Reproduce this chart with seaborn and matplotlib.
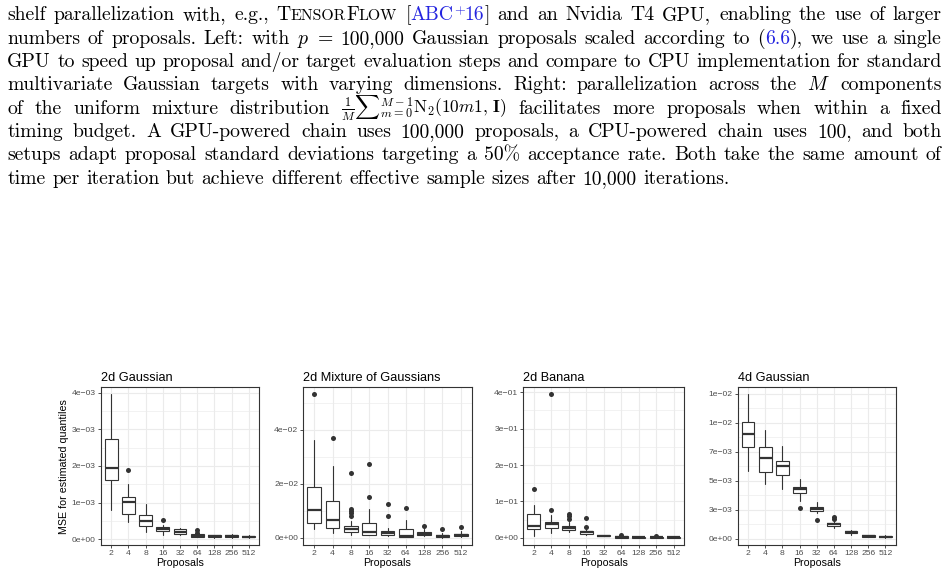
import numpy as np
import pandas as pd
import matplotlib
matplotlib.use("Agg")
import matplotlib.pyplot as plt
import seaborn as sns
from matplotlib.transforms import IdentityTransform
from matplotlib.ticker import FixedLocator, FuncFormatter

proposals = ["2", "4", "8", "16", "32", "64", "128", "256", "512"]

# 2d Gaussian, values in units of 1e-3
g2_lo = [0.80, 0.46, 0.19, 0.125, 0.11, 0.06, 0.04, 0.04, 0.04]
g2_q1 = [1.63, 0.68, 0.37, 0.23, 0.14, 0.07, 0.055, 0.055, 0.05]
g2_med = [1.95, 1.03, 0.51, 0.29, 0.21, 0.09, 0.08, 0.08, 0.075]
g2_q3 = [2.73, 1.14, 0.67, 0.335, 0.27, 0.135, 0.11, 0.11, 0.10]
g2_hi = [3.95, 1.50, 0.95, 0.38, 0.30, 0.17, 0.13, 0.14, 0.12]
g2_out = [[], [1.89], [], [0.53], [], [0.25, 0.18], [], [], []]

# 2d Mixture of Gaussians, units of 1e-2
mix_lo = [0.33, 0.18, 0.11, 0.09, 0.07, 0.02, 0.05, 0.00, 0.02]
mix_q1 = [0.54, 0.37, 0.21, 0.12, 0.11, 0.04, 0.10, 0.02, 0.05]
mix_med = [1.03, 0.65, 0.31, 0.20, 0.18, 0.07, 0.16, 0.06, 0.10]
mix_q3 = [1.90, 1.37, 0.44, 0.55, 0.26, 0.31, 0.22, 0.12, 0.16]
mix_hi = [3.64, 2.66, 0.61, 1.07, 0.37, 0.65, 0.33, 0.18, 0.25]
mix_out = [[5.31], [3.69], [2.40, 1.07, 1.01, 0.92, 0.82], [2.72, 1.51],
           [1.24, 0.80], [1.10], [0.44], [0.31], [0.39]]

# 2d Banana, units of 1e-1
ban_lo = [0.06, 0.14, 0.15, 0.08, 0.04, 0.005, 0.002, 0.003, 0.002]
ban_q1 = [0.25, 0.26, 0.21, 0.11, 0.05, 0.01, 0.005, 0.005, 0.005]
ban_med = [0.34, 0.38, 0.26, 0.15, 0.065, 0.025, 0.015, 0.02, 0.015]
ban_q3 = [0.67, 0.43, 0.32, 0.19, 0.08, 0.045, 0.03, 0.035, 0.03]
ban_hi = [0.91, 0.62, 0.45, 0.25, 0.09, 0.06, 0.04, 0.045, 0.04]
ban_out = [[1.35], [3.94, 0.76], [0.65, 0.59, 0.53], [0.55, 0.31], [],
           [0.09], [], [0.055], []]

# 4d Gaussian, units of 1e-3
g4_lo = [5.84, 4.72, 4.29, 3.23, 2.26, 0.94, 0.34, 0.15, 0.09]
g4_q1 = [7.93, 5.75, 5.47, 3.95, 2.40, 1.14, 0.49, 0.20, 0.12]
g4_med = [9.04, 6.98, 6.27, 4.26, 2.60, 1.26, 0.60, 0.26, 0.19]
g4_q3 = [10.01, 7.93, 6.72, 4.49, 2.78, 1.40, 0.69, 0.31, 0.26]
g4_hi = [12.42, 9.36, 8.01, 5.15, 3.20, 1.57, 0.80, 0.36, 0.30]
g4_out = [[], [], [], [2.66], [1.63], [1.89, 1.75], [], [], []]

sns.set_theme(style="whitegrid")
plt.rcParams['font.family'] = ['Liberation Sans', 'DejaVu Sans']
plt.rcParams['mathtext.fontset'] = 'cm'

DARK = '#333333'
GRID = '#EBEBEB'

fig = plt.figure(figsize=(9.5, 5.78), dpi=100)
renderer = fig.canvas.get_renderer()

# ---- caption text above the plots (justified, word by word) ----
FS = 14.2
BLUE = '#2424e0'
styles = {
    'rm': dict(family='cmr10', size=FS, color='black'),
    'sc': dict(family='cmr10', size=FS * 0.8, color='black'),
    'bl': dict(family='cmr10', size=FS, color=BLUE),
    'sup': dict(family='cmr10', size=FS * 0.7, color=BLUE, dy=6.5),
    'ms': dict(family='cmr10', size=FS * 0.88, color='black'),
}
X0, X1 = 7.3, 941.7
H = 578
SPACE = FS * 0.333 * 100 / 72

caption = [
    ["shelf", "parallelization", "with,", "e.g.,",
     [("T", 'rm'), ("ENSOR", 'sc'), ("F", 'rm'), ("LOW", 'sc')],
     [("[", 'rm'), ("ABC", 'bl'), ("+", 'sup'), ("16", 'bl'), ("]", 'rm')],
     "and", "an", "Nvidia", "T4", "GPU,", "enabling", "the", "use", "of", "larger"],
    ["numbers", "of", "proposals.", "Left:", "with", "$p$", "=", "100,000", "Gaussian",
     "proposals", "scaled", "according", "to",
     [("(", 'rm'), ("6.6", 'bl'), ("),", 'rm')],
     "we", "use", "a", "single"],
    ["GPU", "to", "speed", "up", "proposal", "and/or", "target", "evaluation", "steps",
     "and", "compare", "to", "CPU", "implementation", "for", "standard"],
    ["multivariate", "Gaussian", "targets", "with", "varying", "dimensions.", "Right:",
     "parallelization", "across", "the", "$M$", "components"],
    ["of", "the", "uniform", "mixture", "distribution",
     [(r"$\frac{1}{M}\sum{}_{m=0}^{M-1}\mathrm{N}_2(10m\mathbf{1},\,\mathbf{I})$", 'ms')],
     "facilitates", "more", "proposals", "when", "within", "a", "fixed"],
    ["timing", "budget.", "A", "GPU-powered", "chain", "uses", "100,000", "proposals,", "a",
     "CPU-powered", "chain", "uses", "100,", "and", "both"],
    ["setups", "adapt", "proposal", "standard", "deviations", "targeting", "a", "50%",
     "acceptance", "rate.", "Both", "take", "the", "same", "amount", "of"],
    ["time", "per", "iteration", "but", "achieve", "different", "effective", "sample",
     "sizes", "after", "10,000", "iterations."],
]


def draw_line(words, baseline, justify):
    items = []
    total = 0
    for w in words:
        segs = [(w, 'rm')] if isinstance(w, str) else w
        arts = []
        wsum = 0
        for s, st in segs:
            kw = dict(styles[st])
            dy = kw.pop('dy', 0)
            t = fig.text(0, 0, s, transform=IdentityTransform(),
                         va='baseline', ha='left', **kw)
            wd = t.get_window_extent(renderer).width
            arts.append((t, wd, dy))
            wsum += wd
        items.append((arts, wsum))
        total += wsum
    gap = (X1 - X0 - total) / (len(items) - 1) if justify else SPACE
    x = X0
    y = H - baseline
    for arts, wsum in items:
        xx = x
        for t, wd, dy in arts:
            t.set_position((xx, y + dy))
            xx += wd
        x += wsum + gap


for i, words in enumerate(caption):
    draw_line(words, 20.5 + 23.33 * i, justify=(i < len(caption) - 1))

# ---- the four boxplot panels ----
panels = [
    ("2d Gaussian", 1e-3, g2_lo, g2_q1, g2_med, g2_q3, g2_hi, g2_out,
     [0, 1e-3, 2e-3, 3e-3, 4e-3], [0.5e-3, 1.5e-3, 2.5e-3, 3.5e-3],
     [100.7, 158.6]),
    ("2d Mixture of Gaussians", 1e-2, mix_lo, mix_q1, mix_med, mix_q3, mix_hi, mix_out,
     [0, 2e-2, 4e-2], [1e-2, 3e-2, 5e-2], [303.3, 168.4]),
    ("2d Banana", 1e-1, ban_lo, ban_q1, ban_med, ban_q3, ban_hi, ban_out,
     [0, 0.1, 0.2, 0.3, 0.4], [0.05, 0.15, 0.25, 0.35], [523.3, 160.7]),
    ("4d Gaussian", 1e-3, g4_lo, g4_q1, g4_med, g4_q3, g4_hi, g4_out,
     [0, 0.0025, 0.005, 0.0075, 0.01, 0.0125],
     [0.00125, 0.00375, 0.00625, 0.00875, 0.01125], [737.7, 158.0]),
]

fmt = FuncFormatter(lambda v, pos: f"{v:.0e}".replace("-", "\u2212"))
pos = np.arange(1, len(proposals) + 1)

for k, (title, sc, lo, q1, med, q3, hi, out, majors, minors, box) in enumerate(panels):
    ax = fig.add_axes([box[0] / 950, (578 - 545) / 578, box[1] / 950, 157.7 / 578])
    ax.set_facecolor('white')
    ax.set_axisbelow(True)
    stats = []
    for i in range(len(proposals)):
        stats.append(dict(whislo=lo[i] * sc, q1=q1[i] * sc, med=med[i] * sc,
                          q3=q3[i] * sc, whishi=hi[i] * sc, fliers=[]))
    ax.bxp(stats, positions=pos, widths=0.75, showfliers=False, showcaps=False,
           patch_artist=True,
           boxprops=dict(facecolor='white', edgecolor=DARK, linewidth=0.8),
           medianprops=dict(color=DARK, linewidth=1.6, solid_capstyle='butt'),
           whiskerprops=dict(color=DARK, linewidth=0.8))
    fx, fy = [], []
    for i, vals in enumerate(out):
        for v in vals:
            fx.append(pos[i])
            fy.append(v * sc)
    df = pd.DataFrame({'x': fx, 'y': fy})
    sns.scatterplot(data=df, x='x', y='y', ax=ax, color=DARK, s=13,
                    linewidth=0, zorder=3)

    ax.set_xlim(0.4, len(proposals) + 0.6)
    ax.set_xticks(pos)
    ax.set_xticklabels(proposals)
    ax.yaxis.set_major_locator(FixedLocator(majors))
    ax.yaxis.set_minor_locator(FixedLocator(minors))
    ax.yaxis.set_major_formatter(fmt)

    ax.grid(False)
    ax.grid(which='major', color=GRID, linewidth=0.8)
    ax.grid(which='minor', axis='y', color=GRID, linewidth=0.45)
    for sp in ax.spines.values():
        sp.set_visible(True)
        sp.set_color(DARK)
        sp.set_linewidth(0.8)
    ax.tick_params(which='major', length=2.3, width=0.6, color=DARK,
                   labelsize=6.1, labelcolor='#4D4D4D', pad=1.3,
                   bottom=True, left=True)
    ax.tick_params(which='minor', length=0)

    ax.set_title(title, loc='left', fontsize=9.2, pad=4.5, color='black')
    ax.set_xlabel("Proposals", fontsize=7.7, labelpad=0.5, color='black')
    if k == 0:
        ax.set_ylabel("MSE for estimated quantiles", fontsize=7.7, labelpad=2,
                      color='black')
    else:
        ax.set_ylabel("")

fig.savefig("out.png", dpi=100)
